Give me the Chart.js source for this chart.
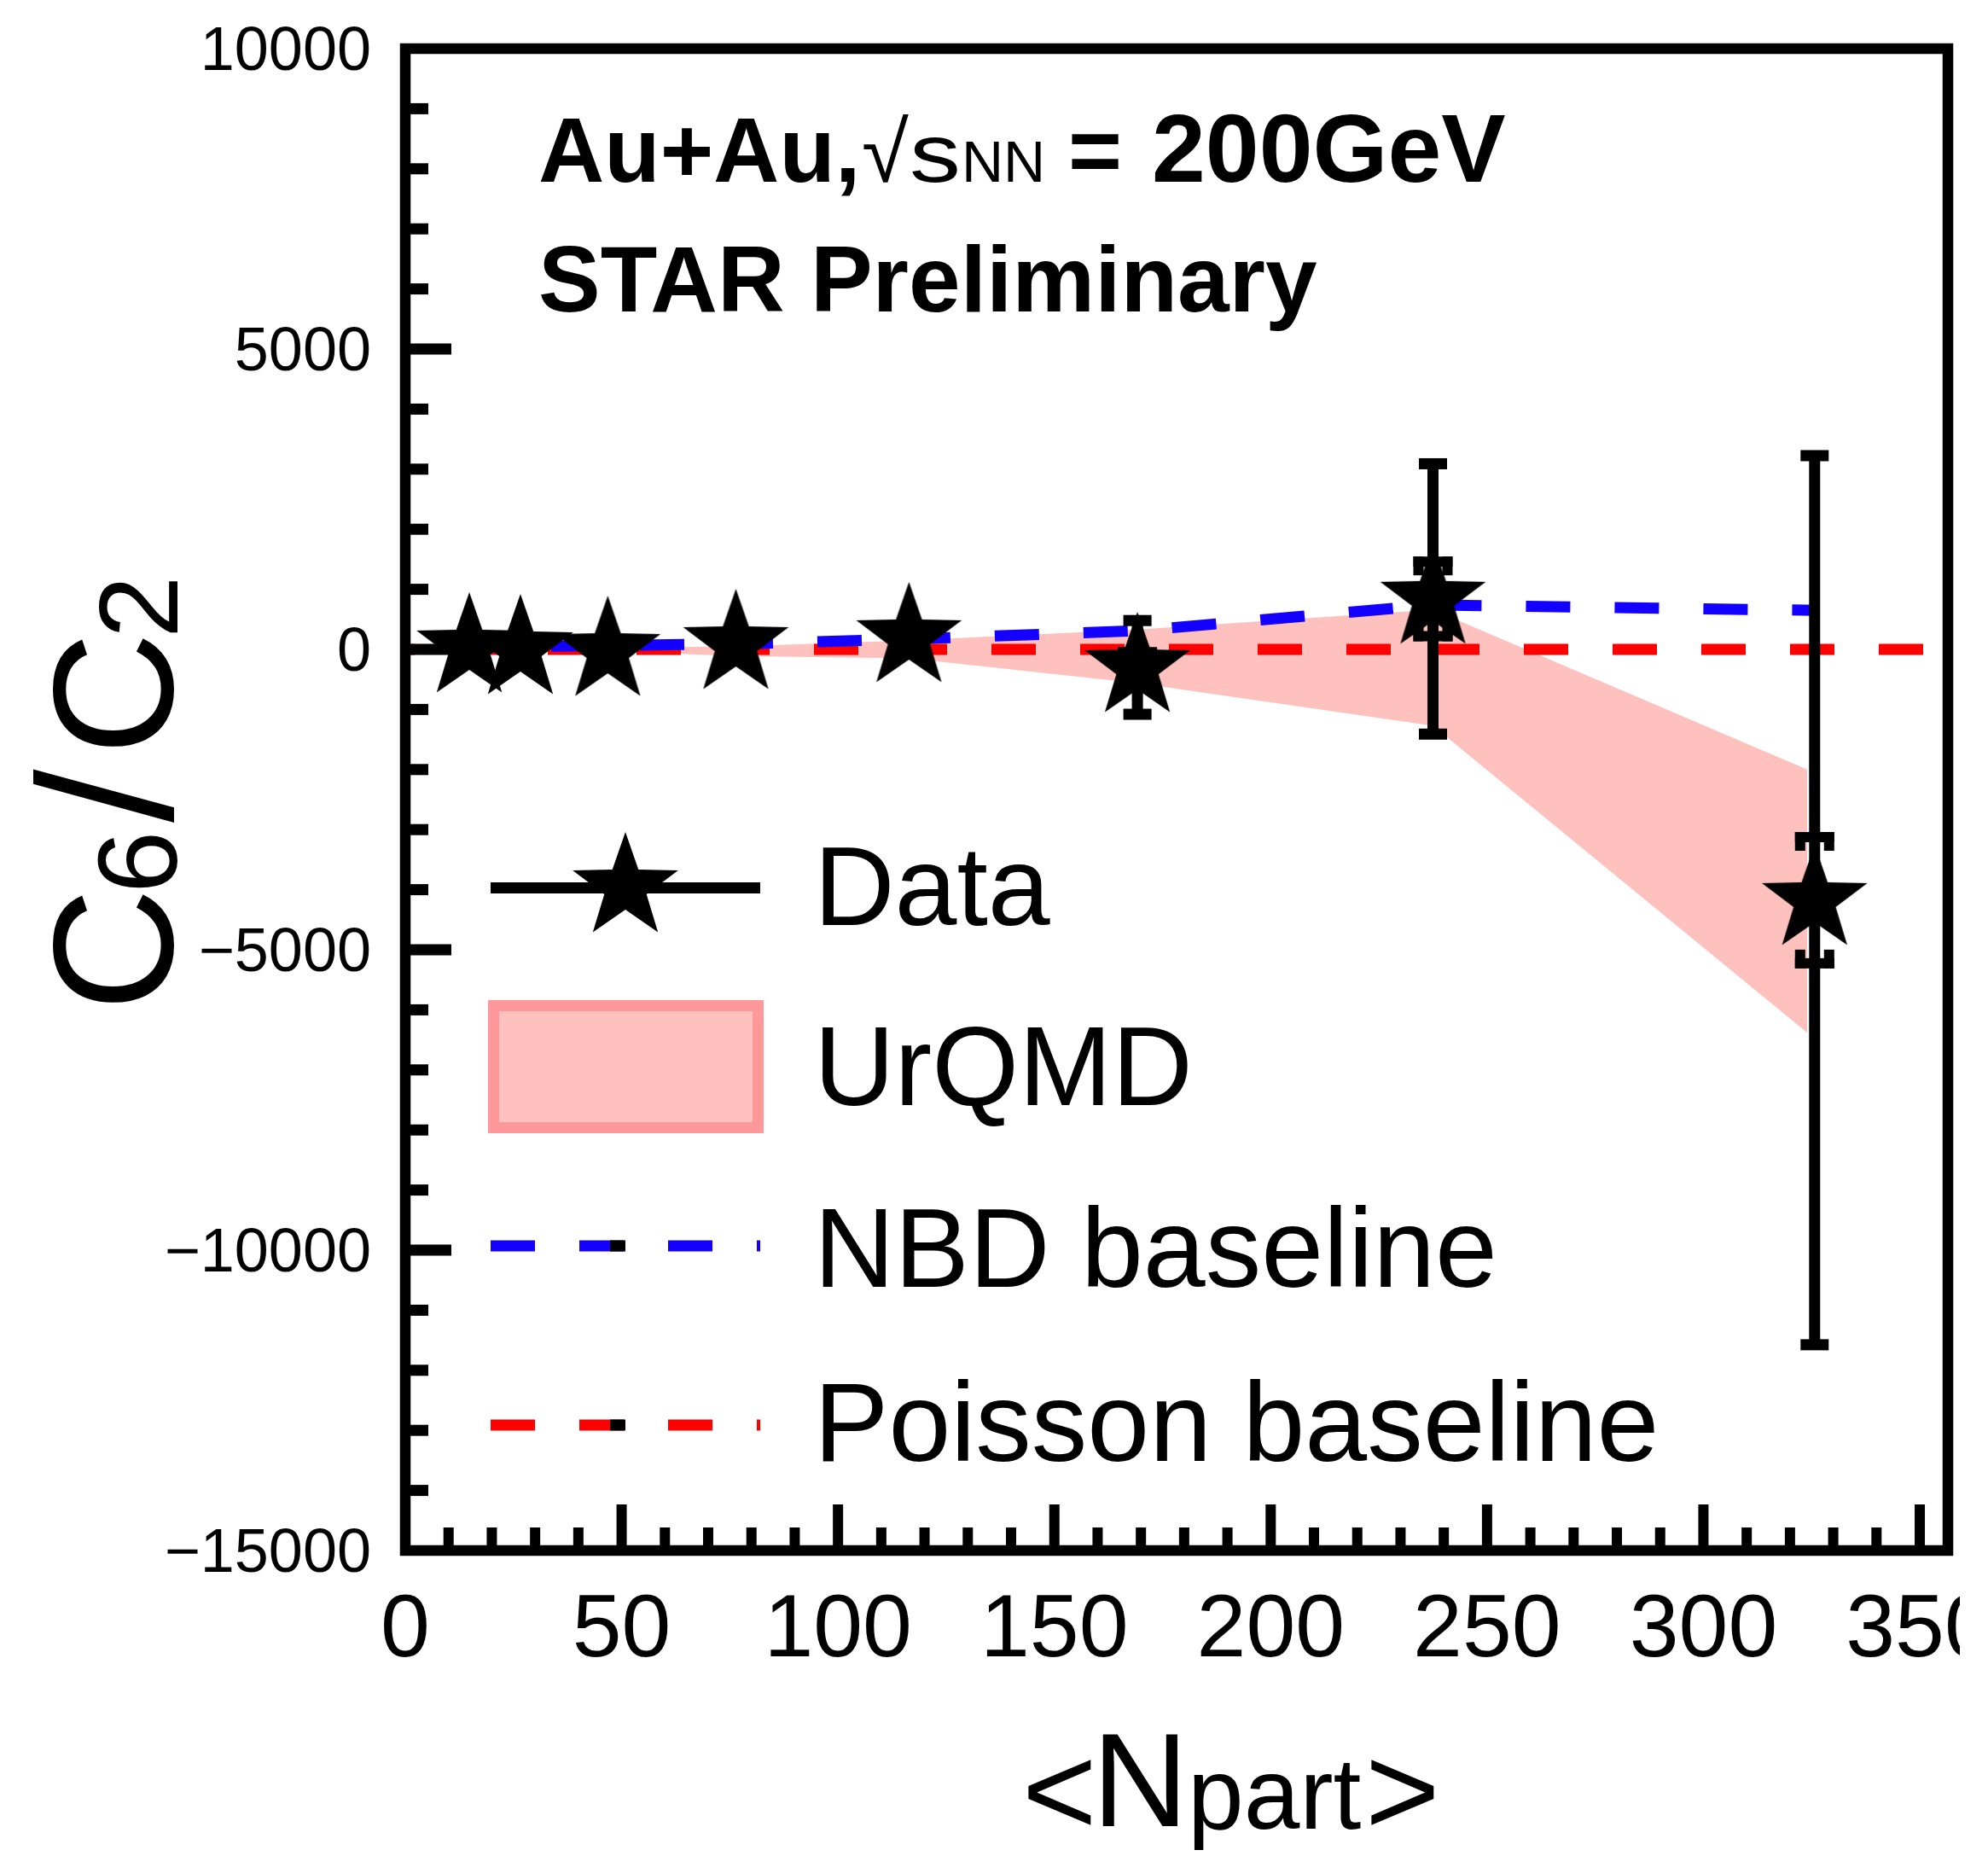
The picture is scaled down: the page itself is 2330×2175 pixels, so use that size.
<!DOCTYPE html>
<html>
<head>
<meta charset="utf-8">
<script src="https://cdn.jsdelivr.net/npm/chart.js@4.4.1/dist/chart.umd.min.js"></script>
<style>
  html, body { margin: 0; padding: 0; background: #fff; }
  body { width: 2330px; height: 2175px; overflow: hidden; }
  canvas { display: block; }
</style>
</head>
<body>
<canvas id="graficaC6C2" width="2297" height="2175"></canvas>
<script>
// <Npart> de cada clase de centralidad
var nPart = [14.8, 26.6, 46.8, 76.4, 116.4, 169.2, 237.5, 325.7];
// C6/C2 medido, error estadistico y sistematico
var c6c2 = [30, 0, -30, 85, 200, -300, 840, -4175];
var errEstad = [150, 150, 150, 150, 200, 780, 2250, 7400];
var errSist = [80, 80, 80, 80, 100, 250, 620, 1050];
// linea base NBD
var nbd = [25, 45, 65, 90, 170, 310, 740, 650];
// banda UrQMD (borde superior e inferior)
var nPartUrqmd = [14.8, 26.6, 46.8, 76.4, 116.4, 169.2, 237.5, 324];
var urqmdSup = [15, 20, 30, 50, 150, 330, 660, -2000];
var urqmdInf = [-15, -20, -30, -110, -150, -560, -1270, -6380];
// linea base Poisson
var nPartPoisson = [0, 356.5];
var poisson = [0, 0];
// etiquetas de los ejes
var ticksX = [0, 50, 100, 150, 200, 250, 300, 350];
var ticksY = [-15000, -10000, -5000, 0, 5000, 10000];

var fuente = "'Liberation Sans', Arial, Helvetica, sans-serif";
var rosa = '#fec1bd';

function puntos(xs, ys) {
    return xs.map(function (x, i) { return { x: x, y: ys[i] }; });
}

function trazarEstrella(c, cx, cy, r) {
    c.beginPath();
    for (var k = 0; k < 10; k++) {
        var rad = k % 2 === 0 ? r : r * 0.4;
        var ang = -Math.PI / 2 + k * Math.PI / 5;
        var px = cx + rad * Math.cos(ang);
        var py = cy + rad * Math.sin(ang);
        if (k === 0) c.moveTo(px, py); else c.lineTo(px, py);
    }
    c.closePath();
    c.fill();
}

// marcador de estrella rellena para los puntos
var estrella = document.createElement('canvas');
estrella.width = 134;
estrella.height = 134;
var ctxEstrella = estrella.getContext('2d');
ctxEstrella.fillStyle = '#000';
trazarEstrella(ctxEstrella, 67, 67, 65);

// barras de error: estadistico con tapa, sistematico con corchete
var barrasError = {
    id: 'barrasError',
    beforeDatasetDraw: function (chart, args) {
        if (args.index !== 0) return;
        var c = chart.ctx, ex = chart.scales.x, ey = chart.scales.y;
        c.save();
        c.fillStyle = '#000';
        nPart.forEach(function (n, i) {
            var px = ex.getPixelForValue(n);
            var arriba = ey.getPixelForValue(c6c2[i] + errEstad[i]);
            var abajo = ey.getPixelForValue(c6c2[i] - errEstad[i]);
            c.fillRect(px - 6.5, arriba, 13, abajo - arriba);
            c.fillRect(px - 16.5, arriba - 6.5, 33, 13);
            c.fillRect(px - 16.5, abajo - 6.5, 33, 13);

            var sArriba = ey.getPixelForValue(c6c2[i] + errSist[i]);
            var sAbajo = ey.getPixelForValue(c6c2[i] - errSist[i]);
            c.fillRect(px - 23, sArriba - 6, 46, 12);
            c.fillRect(px - 23, sArriba - 6, 12, 22);
            c.fillRect(px + 11, sArriba - 6, 12, 22);
            c.fillRect(px - 23, sAbajo - 6, 46, 12);
            c.fillRect(px - 23, sAbajo - 16, 12, 22);
            c.fillRect(px + 11, sAbajo - 16, 12, 22);
        });
        c.restore();
    }
};

// marco del grafico con marcas hacia dentro
var marcoYMarcas = {
    id: 'marcoYMarcas',
    afterDraw: function (chart) {
        var c = chart.ctx, a = chart.chartArea, ex = chart.scales.x, ey = chart.scales.y;
        c.save();
        c.fillStyle = '#000';
        for (var vx = 10; vx <= 350; vx += 10) {
            var px = ex.getPixelForValue(vx);
            var lx = vx % 50 === 0 ? 54 : 27;
            c.fillRect(px - 6, a.bottom - lx, 12, lx);
        }
        for (var vy = -14000; vy < 10000; vy += 1000) {
            var py = ey.getPixelForValue(vy);
            var ly = vy % 5000 === 0 ? 54 : 27;
            c.fillRect(a.left, py - 6.5, ly, 13);
        }
        c.strokeStyle = '#000';
        c.lineWidth = 12.5;
        c.strokeRect(a.left, a.top, a.right - a.left, a.bottom - a.top);
        c.restore();
    }
};

function lineaDiscontinua(c, x0, x1, y, color) {
    c.save();
    c.strokeStyle = color;
    c.lineWidth = 13;
    c.setLineDash([52, 52]);
    c.beginPath();
    c.moveTo(x0, y);
    c.lineTo(x1, y);
    c.stroke();
    c.fillStyle = '#000';
    c.fillRect(715, y - 6.5, 18, 13);
    c.restore();
}

// textos, titulos de ejes y leyenda
var textos = {
    id: 'textos',
    afterDraw: function (chart) {
        var c = chart.ctx;
        c.save();
        c.fillStyle = '#000';
        c.textAlign = 'left';
        c.textBaseline = 'alphabetic';

        c.font = 'bold 107px ' + fuente;
        c.fillText('Au+Au,', 631, 213);
        c.font = '100px ' + fuente;
        c.fillText('\u221A', 1010, 213);
        // la s va algo ensanchada
        c.save();
        c.translate(1066, 213);
        c.scale(1.25, 1);
        c.font = '96px ' + fuente;
        c.fillText('s', 0, 0);
        c.restore();
        c.font = '68px ' + fuente;
        c.fillText('NN', 1127, 213);
        c.font = 'bold 108px ' + fuente;
        c.fillText('=', 1252, 213);
        c.font = 'bold 113px ' + fuente;
        c.fillText('200GeV', 1350, 213);
        c.font = 'bold 109px ' + fuente;
        c.fillText('STAR Preliminary', 631, 365);

        // titulo eje x
        c.font = '150px ' + fuente;
        c.fillText('<', 1198, 2150);
        c.font = '156px ' + fuente;
        c.fillText('N', 1280, 2140);
        c.font = '118px ' + fuente;
        c.fillText('part', 1392, 2143);
        c.font = '150px ' + fuente;
        c.fillText('>', 1600, 2150);

        // titulo eje y
        c.save();
        c.translate(202, 0);
        c.rotate(-Math.PI / 2);
        c.font = '200px ' + fuente;
        c.fillText('C', -1185, 0);
        c.font = '132px ' + fuente;
        c.fillText('6', -1047, 5);
        c.font = '225px ' + fuente;
        c.fillText('/', -964, 0);
        c.font = '200px ' + fuente;
        c.fillText('C', -885, 0);
        c.font = '132px ' + fuente;
        c.fillText('2', -748, 6);
        c.restore();

        // leyenda
        c.fillRect(575, 1034, 316, 13);
        trazarEstrella(c, 733, 1040, 65);

        c.fillStyle = rosa;
        c.fillRect(578, 1178, 311, 144);
        c.strokeStyle = '#fe989a';
        c.lineWidth = 13;
        c.strokeRect(578.5, 1178.5, 310, 143);

        lineaDiscontinua(c, 575, 891, 1460, '#1400ff');
        lineaDiscontinua(c, 575, 891, 1670, '#ff0000');

        c.fillStyle = '#000';
        c.font = '131px ' + fuente;
        c.fillText('Data', 954, 1084);
        c.fillText('UrQMD', 954, 1295);
        c.fillText('NBD baseline', 954, 1508);
        c.fillText('Poisson baseline', 954, 1712);
        c.restore();
    }
};

function crearGraficaC6C2() {
    var ctx = document.getElementById('graficaC6C2').getContext('2d');
    var grafica = new Chart(ctx, {
        type: 'line',
        data: {
            datasets: [{
                label: 'Data',
                data: puntos(nPart, c6c2),
                showLine: false,
                pointStyle: estrella,
                pointRadius: 2,
                order: 0
            }, {
                label: 'NBD baseline',
                data: puntos(nPart, nbd),
                borderColor: '#1400ff',
                borderWidth: 13,
                borderDash: [52, 52],
                borderDashOffset: 8,
                pointRadius: 0,
                fill: false,
                order: 1
            }, {
                label: 'Poisson baseline',
                data: puntos(nPartPoisson, poisson),
                borderColor: '#ff0000',
                borderWidth: 13,
                borderDash: [52, 52],
                borderDashOffset: 41,
                pointRadius: 0,
                fill: false,
                order: 2
            }, {
                label: 'UrQMD',
                data: puntos(nPartUrqmd, urqmdSup),
                borderColor: 'rgba(0,0,0,0)',
                borderWidth: 0,
                backgroundColor: rosa,
                pointRadius: 0,
                fill: '+1',
                order: 3
            }, {
                label: 'UrQMD inferior',
                data: puntos(nPartUrqmd, urqmdInf),
                borderColor: 'rgba(0,0,0,0)',
                borderWidth: 0,
                pointRadius: 0,
                fill: false,
                order: 4
            }]
        },
        options: {
            responsive: false,
            devicePixelRatio: 1,
            animation: false,
            layout: { autoPadding: false, padding: { left: 0, right: 14, top: 57, bottom: 0 } },
            plugins: {
                legend: { display: false },
                tooltip: { enabled: false }
            },
            scales: {
                x: {
                    type: 'linear',
                    min: 0,
                    max: 356.5,
                    grid: { display: false, drawTicks: false },
                    border: { display: false },
                    ticks: {
                        font: { family: fuente, size: 104 },
                        color: '#000',
                        padding: 33,
                        maxRotation: 0,
                        autoSkip: false,
                        callback: function (v) { return String(v); }
                    },
                    afterBuildTicks: function (eje) {
                        eje.ticks = ticksX.map(function (v) { return { value: v }; });
                    },
                    afterFit: function (eje) {
                        eje.height = 2175 - 1817;
                        eje.paddingLeft = 0;
                        eje.paddingRight = 0;
                    }
                },
                y: {
                    type: 'linear',
                    min: -15000,
                    max: 10000,
                    grid: { display: false, drawTicks: false },
                    border: { display: false },
                    ticks: {
                        font: { family: fuente, size: 72 },
                        color: '#000',
                        padding: 40,
                        labelOffset: 5,
                        autoSkip: false,
                        callback: function (v) { return v < 0 ? '\u2212' + (-v) : String(v); }
                    },
                    afterBuildTicks: function (eje) {
                        eje.ticks = ticksY.map(function (v) { return { value: v }; });
                    },
                    afterFit: function (eje) {
                        eje.width = 475;
                        eje.paddingTop = 0;
                        eje.paddingBottom = 0;
                    }
                }
            }
        },
        plugins: [barrasError, marcoYMarcas, textos]
    });
}

crearGraficaC6C2();
</script>
</body>
</html>
